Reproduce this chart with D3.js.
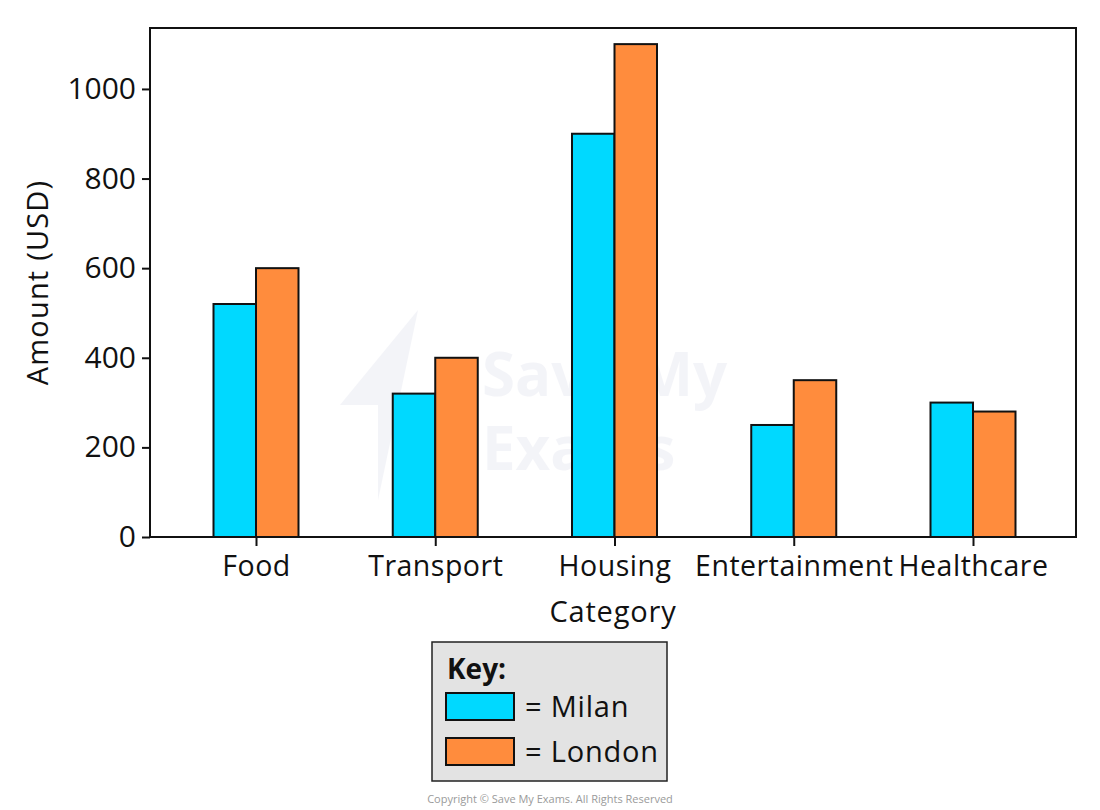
<!DOCTYPE html>
<html>
<head>
<meta charset="utf-8">
<script src="https://cdn.jsdelivr.net/npm/d3@7"></script>
<style>
  body { margin: 0; background: #fff; }
  text { font-family: "Open Sans", "DejaVu Sans", sans-serif; }
</style>
</head>
<body>
<div id="chart"></div>
<script>
// data
const categories = ["Food", "Transport", "Housing", "Entertainment", "Healthcare"];
const milan = [520, 320, 900, 250, 300];
const london = [600, 400, 1100, 350, 280];
const yTicks = [0, 200, 400, 600, 800, 1000];
const seriesNames = ["Milan", "London"];
const seriesColors = ["#00d9ff", "#ff8c3d"];

const width = 1100;
const height = 810;
const margin = { top: 28, right: 24, bottom: 273, left: 150 };
const plotW = width - margin.left - margin.right;
const plotH = height - margin.top - margin.bottom;

const svg = d3.select("#chart")
    .append("svg")
    .attr("width", width)
    .attr("height", height);

// faint watermark
const wm = svg.append("g").attr("opacity", 0.05).attr("fill", "#2a3a8a");
wm.append("path").attr("d", "M418,310 L340,405 L378,405 L378,500 Z");
const wmText = wm.append("text").attr("font-size", 60).attr("font-weight", "bold");
wmText.append("tspan").attr("x", 482).attr("y", 396).text("Save My");
wmText.append("tspan").attr("x", 482).attr("y", 470).text("Exams");

const g = svg.append("g")
    .attr("transform", `translate(${margin.left},${margin.top})`);

const x = d3.scalePoint()
    .domain(categories)
    .range([106, plotW - 103]);

const y = d3.scaleLinear()
    .domain([0, 1136])
    .range([plotH, 0]);

const barW = 42.5;

const rows = categories.map((c, i) => ({ cat: c, values: [milan[i], london[i]] }));

const groups = g.selectAll(".cat")
    .data(rows)
    .enter()
    .append("g")
    .attr("class", "cat")
    .attr("transform", d => `translate(${x(d.cat)},0)`);

groups.selectAll("rect")
    .data(d => d.values.map((v, k) => ({ v, k })))
    .enter()
    .append("rect")
    .attr("x", d => d.k === 0 ? -barW : 0)
    .attr("y", d => y(d.v))
    .attr("width", barW)
    .attr("height", d => plotH - y(d.v))
    .attr("fill", d => seriesColors[d.k])
    .attr("stroke", "#111")
    .attr("stroke-width", 2);

// frame
g.append("rect")
    .attr("width", plotW)
    .attr("height", plotH)
    .attr("fill", "none")
    .attr("stroke", "#111")
    .attr("stroke-width", 2);

// axes
const yAxis = g.append("g")
    .call(d3.axisLeft(y).tickValues(yTicks).tickFormat(d3.format("d")).tickSize(8).tickPadding(6));
yAxis.select(".domain").remove();
yAxis.selectAll("line").attr("stroke", "#111").attr("stroke-width", 2);
yAxis.selectAll("text").attr("font-size", 30).attr("fill", "#111");

const xAxis = g.append("g")
    .attr("transform", `translate(0,${plotH})`)
    .call(d3.axisBottom(x).tickSize(9).tickPadding(10));
xAxis.select(".domain").remove();
xAxis.selectAll("line").attr("stroke", "#111").attr("stroke-width", 2);
xAxis.selectAll("text").attr("font-size", 28.5).attr("fill", "#111").attr("letter-spacing", 0.5);

// axis titles
svg.append("text")
    .attr("x", 613)
    .attr("y", 622)
    .attr("text-anchor", "middle")
    .attr("font-size", 29)
    .attr("letter-spacing", 0.8)
    .attr("fill", "#111")
    .text("Category");

svg.append("text")
    .attr("transform", `translate(48,${margin.top + plotH / 2}) rotate(-90)`)
    .attr("text-anchor", "middle")
    .attr("font-size", 29)
    .attr("letter-spacing", 1.2)
    .attr("fill", "#111")
    .text("Amount (USD)");

// legend
const key = svg.append("g").attr("transform", "translate(432,642)");
key.append("rect")
    .attr("width", 235)
    .attr("height", 139)
    .attr("fill", "#e3e3e3")
    .attr("stroke", "#222")
    .attr("stroke-width", 1.5);
key.append("text")
    .attr("x", 15)
    .attr("y", 37)
    .attr("font-size", 28)
    .attr("font-weight", "bold")
    .attr("fill", "#111")
    .text("Key:");

const items = key.selectAll(".item")
    .data(seriesNames)
    .enter()
    .append("g")
    .attr("class", "item")
    .attr("transform", (d, i) => `translate(14,${51 + i * 45})`);
items.append("rect")
    .attr("width", 68)
    .attr("height", 27)
    .attr("fill", (d, i) => seriesColors[i])
    .attr("stroke", "#111")
    .attr("stroke-width", 2);
items.append("text")
    .attr("x", 79)
    .attr("y", 24)
    .attr("font-size", 29)
    .attr("letter-spacing", 0.8)
    .attr("fill", "#111")
    .text(d => "= " + d);

svg.append("text")
    .attr("x", 550)
    .attr("y", 803)
    .attr("text-anchor", "middle")
    .attr("font-size", 11)
    .attr("fill", "#9a9a9a")
    .text("Copyright © Save My Exams. All Rights Reserved");
</script>
</body>
</html>
